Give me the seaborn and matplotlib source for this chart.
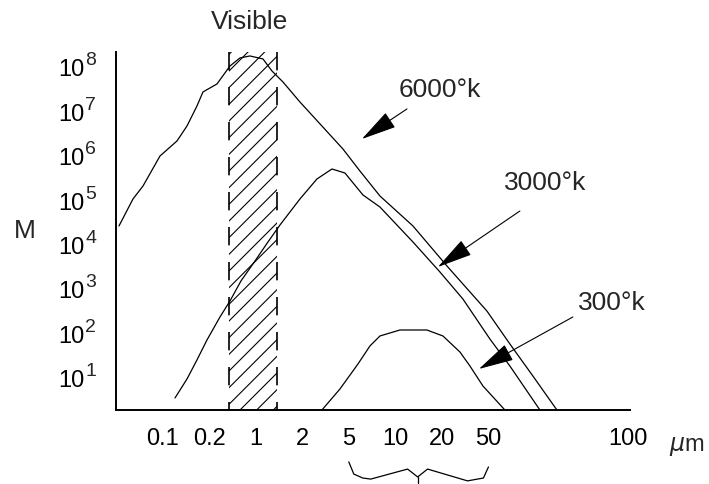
import matplotlib
matplotlib.use("Agg")
import matplotlib.pyplot as plt
import seaborn as sns

# x axis is a plain index axis, the wavelengths are only labels
x_tick_pos = [1, 2, 3, 4, 5, 6, 7, 8, 11]
x_tick_labels = ["0.1", "0.2", "1", "2", "5", "10", "20", "50", "100"]
y_exponents = [1, 2, 3, 4, 5, 6, 7, 8]

# curves, y in decades of M
t6000_x = [0.064, 0.365, 0.580, 0.945, 1.310, 1.525, 1.739, 1.868, 2.169, 2.448,
           2.663, 2.877, 3.157, 3.350, 3.586, 3.951, 4.874, 5.239, 5.669, 6.378,
           7.108, 7.966, 8.460, 8.954, 9.470]
t6000_y = [4.416, 5.024, 5.316, 5.992, 6.330, 6.668, 7.118, 7.434, 7.614, 8.019,
           8.200, 8.245, 8.177, 7.906, 7.659, 7.208, 6.150, 5.654, 5.091, 4.416,
           3.515, 2.501, 1.758, 1.037, 0.271]

t3000_x = [1.267, 1.525, 1.739, 1.954, 2.233, 2.448, 2.684, 2.985, 3.264, 3.522,
           3.951, 4.316, 4.638, 4.917, 5.304, 5.669, 6.378, 6.957, 7.451, 8.031,
           8.460, 9.105]
t3000_y = [0.542, 0.970, 1.398, 1.848, 2.366, 2.726, 3.177, 3.627, 4.055, 4.438,
           5.024, 5.474, 5.699, 5.609, 5.114, 4.843, 4.055, 3.380, 2.771, 1.870,
           1.262, 0.271]

t300_x = [4.423, 4.810, 5.197, 5.454, 5.669, 6.098, 6.678, 7.022, 7.387, 7.602,
          7.881, 8.353]
t300_y = [0.271, 0.744, 1.307, 1.713, 1.938, 2.073, 2.073, 1.938, 1.578, 1.262,
          0.812, 0.271]

visible_lo, visible_hi = 2.426, 3.457

labels = ["6000°k", "3000°k", "300°k"]
label_xy = [(6.957, 7.501), (9.212, 5.407), (10.651, 2.704)]
arrow_tail = [(6.249, 7.051), (8.675, 4.753), (9.813, 2.366)]
arrow_tip = [(5.282, 6.375), (6.914, 3.492), (7.795, 1.195)]

sns.set_style("white")
plt.rcParams["font.family"] = ["Liberation Sans", "DejaVu Sans"]
plt.rcParams["hatch.linewidth"] = 0.8

fig = plt.figure(figsize=(7.09, 4.85), dpi=100)
ax = fig.add_axes([116 / 709, 74 / 485, 514 / 709, 358 / 485])

for xs, ys in [(t6000_x, t6000_y), (t3000_x, t3000_y), (t300_x, t300_y)]:
    sns.lineplot(x=xs, y=ys, ax=ax, color="black", linewidth=0.9,
                 sort=False, estimator=None)

# visible band
ax.axvspan(visible_lo, visible_hi, facecolor="none", edgecolor="black",
           hatch="//", linewidth=0)
for xv in (visible_lo, visible_hi):
    ax.axvline(xv, ymin=1, ymax=0, color="black", linewidth=1.2,
               linestyle=(0, (11, 10)))

ax.set_xlim(0, 11.04)
ax.set_ylim(0.271, 8.334)

ax.set_xticks(x_tick_pos, labels=x_tick_labels)
ax.set_yticks(y_exponents, labels=["10"] * len(y_exponents))
ax.tick_params(axis="x", direction="in", length=4, width=1, pad=12,
               labelsize=17, colors="black")
ax.tick_params(axis="y", direction="out", length=2, width=1, pad=21,
               labelsize=17, colors="black")
for e in y_exponents:
    ax.annotate(str(e), xy=(0, e), xycoords=ax.get_yaxis_transform(),
                xytext=(-22.3, 5), textcoords="offset points",
                ha="left", va="center", fontsize=14)

sns.despine(ax=ax)
for s in ("left", "bottom"):
    ax.spines[s].set_linewidth(1.4)
    ax.spines[s].set_color("black")

for txt, (lx, ly), tail, tip in zip(labels, label_xy, arrow_tail, arrow_tip):
    ax.text(lx, ly, txt, fontsize=19, ha="center", va="center")
    ax.annotate("", xy=tip, xytext=tail,
                arrowprops=dict(arrowstyle="-|>,head_length=1.6,head_width=0.4",
                                color="black", lw=0.8, shrinkA=0, shrinkB=0,
                                mutation_scale=14))

ax.text((visible_lo + visible_hi) / 2 - 0.08, 1.087, "Visible", fontsize=19,
        ha="center", va="center", transform=ax.get_xaxis_transform())
ax.text(-0.177, 0.503, "M", fontsize=19, ha="center", va="center",
        transform=ax.transAxes)
ax.text(1.111, -0.10, r"$\mu$m", fontsize=17, ha="center", va="center",
        transform=ax.transAxes)

# brace under 5 .. 50
b0, b1 = x_tick_pos[4], x_tick_pos[7]
brace_t = [0, 0.036, 0.1, 0.157, 0.421, 0.493, 0.564, 0.85, 0.964, 1.0]
brace_y = [-0.145, -0.179, -0.190, -0.193, -0.165, -0.187, -0.165, -0.198, -0.190, -0.159]
ax.plot([b0 + t * (b1 - b0) for t in brace_t], brace_y, color="black", lw=0.9,
        transform=ax.get_xaxis_transform(), clip_on=False)
ax.plot([b0 + 0.493 * (b1 - b0)] * 2, [-0.187, -0.204], color="black", lw=0.9,
        transform=ax.get_xaxis_transform(), clip_on=False)

fig.savefig("out.png", dpi=100)
